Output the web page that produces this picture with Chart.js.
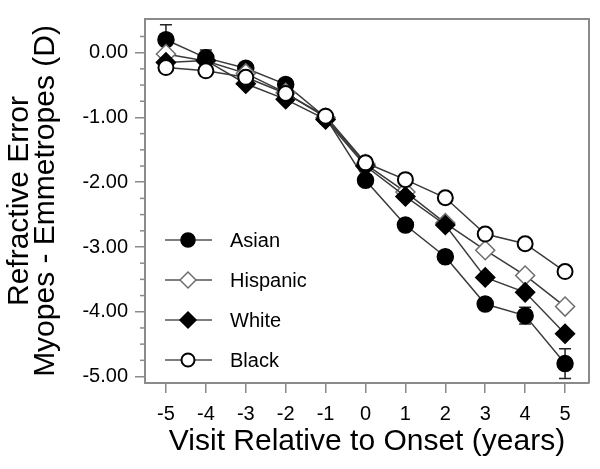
<!DOCTYPE html>
<html>
<head>
<meta charset="utf-8">
<script src="https://cdn.jsdelivr.net/npm/chart.js@4.4.1/dist/chart.umd.min.js"></script>
<style>
  body { margin: 0; background: #fff; }
  canvas { display: block; }
</style>
</head>
<body>
<canvas id="myChart" width="600" height="469"></canvas>
<script>
// visit relative to onset (years)
const visits = [-5, -4, -3, -2, -1, 0, 1, 2, 3, 4, 5];

// refractive error difference, myopes - emmetropes (D)
const asian    = [0.20, -0.08, -0.24, -0.49, -1.00, -1.97, -2.66, -3.15, -3.88, -4.06, -4.80];
const hispanic = [-0.02, -0.13, -0.32, -0.62, -1.00, -1.72, -2.15, -2.63, -3.05, -3.44, -3.92];
const white    = [-0.15, -0.12, -0.48, -0.72, -1.03, -1.75, -2.22, -2.66, -3.47, -3.70, -4.34];
const black    = [-0.23, -0.28, -0.38, -0.63, -0.98, -1.70, -1.96, -2.24, -2.80, -2.95, -3.38];

// standard error for the Asian group (only visible ones matter)
const asianErr = [0.23, 0.12, 0.05, 0.05, 0.04, 0.05, 0.05, 0.05, 0.08, 0.13, 0.23];

const yTicks = [0, -1, -2, -3, -4, -5];
const xTicks = visits;

const FONT = "'Liberation Sans', Arial, sans-serif";
const AXIS_GRAY = '#8a8a8a';

function pts(vals) {
    return visits.map((v, i) => ({ x: v, y: vals[i] }));
}

const series = [
    { label: 'Asian', data: asian, style: 'circle', fill: '#000', border: '#000', bw: 1.5, r: 8, lr: 7, order: 3 },
    { label: 'Hispanic', data: hispanic, style: 'rectRot', fill: '#fff', border: '#6e6e6e', bw: 1.5, r: 9.5, lr: 8, order: 2 },
    { label: 'White', data: white, style: 'rectRot', fill: '#000', border: '#000', bw: 1.5, r: 9.5, lr: 8, order: 1 },
    { label: 'Black', data: black, style: 'circle', fill: '#fff', border: '#000', bw: 2, r: 7.5, lr: 6.5, order: 0 },
];

function drawMarker(ctx, s, x, y, r) {
    ctx.save();
    ctx.beginPath();
    if (s.style === 'circle') {
        ctx.arc(x, y, r, 0, Math.PI * 2);
    } else {
        ctx.moveTo(x - r, y);
        ctx.lineTo(x, y - r);
        ctx.lineTo(x + r, y);
        ctx.lineTo(x, y + r);
        ctx.closePath();
    }
    ctx.fillStyle = s.fill;
    ctx.fill();
    ctx.lineWidth = s.bw;
    ctx.strokeStyle = s.border;
    ctx.stroke();
    ctx.restore();
}

const decor = {
    id: 'decor',
    beforeDatasetsDraw(chart) {
        // error bars
        const ctx = chart.ctx;
        const xs = chart.scales.x, ys = chart.scales.y;
        ctx.save();
        ctx.strokeStyle = '#222';
        ctx.lineWidth = 1.5;
        for (let i = 0; i < visits.length; i++) {
            const px = xs.getPixelForValue(visits[i]);
            const yt = ys.getPixelForValue(asian[i] + asianErr[i]);
            const yb = ys.getPixelForValue(asian[i] - asianErr[i]);
            ctx.beginPath();
            ctx.moveTo(px, yt); ctx.lineTo(px, yb);
            ctx.moveTo(px - 6, yt); ctx.lineTo(px + 6, yt);
            ctx.moveTo(px - 6, yb); ctx.lineTo(px + 6, yb);
            ctx.stroke();
        }
        ctx.restore();
    },
    afterDraw(chart) {
        const ctx = chart.ctx;
        const a = chart.chartArea;
        const ys = chart.scales.y;
        ctx.save();
        // frame top / right
        ctx.strokeStyle = AXIS_GRAY;
        ctx.lineWidth = 2;
        ctx.beginPath();
        ctx.moveTo(a.left, a.top);
        ctx.lineTo(a.right, a.top);
        ctx.lineTo(a.right, a.bottom);
        ctx.stroke();
        // minor y ticks every 0.25
        ctx.lineWidth = 1.5;
        for (let v = 0.25; v > -5.1; v -= 0.25) {
            if (Math.abs(v - Math.round(v)) < 1e-6) continue;
            const py = ys.getPixelForValue(v);
            ctx.beginPath();
            ctx.moveTo(a.left - 5, py);
            ctx.lineTo(a.left, py);
            ctx.stroke();
        }
        // legend
        const lx = a.left + 20;
        const ly = a.top + 221;
        ctx.font = '20px ' + FONT;
        ctx.textBaseline = 'middle';
        ctx.textAlign = 'left';
        series.forEach((s, i) => {
            const y = ly + i * 40;
            ctx.strokeStyle = '#555';
            ctx.lineWidth = 1.5;
            ctx.beginPath();
            ctx.moveTo(lx, y);
            ctx.lineTo(lx + 47, y);
            ctx.stroke();
            drawMarker(ctx, s, lx + 23, y, s.lr);
            ctx.fillStyle = '#000';
            ctx.fillText(s.label, lx + 65, y + 1);
        });
        ctx.restore();
    }
};

const config = {
    type: 'line',
    data: {
        datasets: series.map(s => ({
            label: s.label,
            data: pts(s.data),
            order: s.order,
            borderColor: '#3a3a3a',
            borderWidth: 1.5,
            pointStyle: s.style,
            pointRadius: s.r,
            pointBackgroundColor: s.fill,
            pointBorderColor: s.border,
            pointBorderWidth: s.bw,
            tension: 0,
        }))
    },
    options: {
        responsive: false,
        animation: false,
        devicePixelRatio: 1,
        layout: { padding: { top: 16, right: 10, left: 0, bottom: 0 } },
        plugins: {
            legend: { display: false },
            tooltip: { enabled: false },
        },
        scales: {
            x: {
                type: 'linear',
                min: -5.525,
                max: 5.6,
                afterBuildTicks: (sc) => { sc.ticks = xTicks.map(v => ({ value: v })); },
                afterFit: (sc) => { sc.height = 86; },
                grid: { drawOnChartArea: false, drawTicks: true, tickLength: 10, color: AXIS_GRAY, lineWidth: 1.5 },
                border: { display: true, color: AXIS_GRAY, width: 2 },
                ticks: {
                    color: '#000',
                    font: { family: FONT, size: 20 },
                    padding: 9,
                    maxRotation: 0,
                    callback: (v) => String(v),
                },
                title: {
                    display: true,
                    text: 'Visit Relative to Onset (years)',
                    color: '#000',
                    font: { family: FONT, size: 30 },
                    padding: { top: 0, bottom: 9 },
                },
            },
            y: {
                min: -5.1,
                max: 0.52,
                afterBuildTicks: (sc) => { sc.ticks = yTicks.map(v => ({ value: v })); },
                afterFit: (sc) => { sc.width = 145; },
                grid: { drawOnChartArea: false, drawTicks: true, tickLength: 10, color: AXIS_GRAY, lineWidth: 1.5 },
                border: { display: true, color: AXIS_GRAY, width: 2 },
                ticks: {
                    color: '#000',
                    font: { family: FONT, size: 20 },
                    padding: 7,
                    callback: (v) => Number(v).toFixed(2),
                },
                title: {
                    display: true,
                    text: ['Refractive Error', 'Myopes - Emmetropes (D)'],
                    color: '#000',
                    font: { family: FONT, size: 30, lineHeight: 0.85 },
                    padding: { top: 7, bottom: 0 },
                },
            },
        },
    },
    plugins: [decor],
};

const myChart = new Chart(document.getElementById('myChart'), config);
</script>
</body>
</html>
